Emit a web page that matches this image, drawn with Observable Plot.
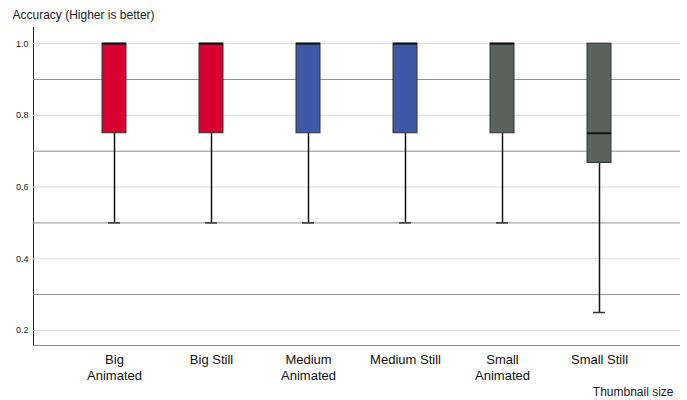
<!DOCTYPE html>
<html><head><meta charset="utf-8">
<script src="https://cdn.jsdelivr.net/npm/d3@7"></script>
<script src="https://cdn.jsdelivr.net/npm/@observablehq/plot@0.6"></script>
<style>
body{margin:0;background:#fff;font-family:"Liberation Sans",Arial,sans-serif}
svg{font-family:"Liberation Sans",Arial,sans-serif}
</style>
</head><body><div id="chart"></div>
<script>
const categories = ["Big Animated","Big Still","Medium Animated","Medium Still","Small Animated","Small Still"];
const tickLabels = ["Big\nAnimated","Big Still","Medium\nAnimated","Medium Still","Small\nAnimated","Small Still"];
const groups = ["Big","Big","Medium","Medium","Small","Small"];
const whiskerLow = [0.5,0.5,0.5,0.5,0.5,0.25];
const q1 = [0.75,0.75,0.75,0.75,0.75,0.667];
const median = [1,1,1,1,1,0.75];
const q3 = [1,1,1,1,1,1];
const whiskerHigh = [1,1,1,1,1,1];
const yTicks = [0.2,0.4,0.6,0.8,1.0];
const refLines = [0.3,0.5,0.7,0.9];
const groupColors = {Big:"#d80030", Medium:"#3d58a7", Small:"#59625c"};
const yTitle = "Accuracy (Higher is better)";
const xTitle = "Thumbnail size";
const yDomain = [0.158, 1.045];

const data = categories.map((c,i)=>({
  category:c, label:tickLabels[i], color:groupColors[groups[i]],
  lo:whiskerLow[i], q1:q1[i], med:median[i], q3:q3[i], hi:whiskerHigh[i]
}));

const chart = Plot.plot({
  width:687, height:400,
  marginLeft:33, marginRight:7, marginTop:27, marginBottom:55,
  style:{fontSize:"9px", color:"#222", background:"#fff"},
  x:{type:"band", domain:categories, paddingInner:0.7526, paddingOuter:0.711, axis:null},
  y:{domain:yDomain, ticks:yTicks, tickFormat:".1f", tickSize:0, tickPadding:5, label:null, line:true},
  color:{type:"identity"},
  marks:[
    Plot.ruleY(yTicks,{stroke:"#dcdcdc", strokeWidth:1}),
    Plot.ruleY(refLines,{stroke:"#8f8f8f", strokeWidth:1}),
    Plot.ruleY([yDomain[0]],{stroke:"#888", strokeWidth:1}),
    Plot.ruleX(data,{x:"category", y1:"lo", y2:"q1", stroke:"#111", strokeWidth:1.5}),
    Plot.ruleX(data,{x:"category", y1:"q3", y2:"hi", stroke:"#111", strokeWidth:1.5}),
    Plot.tickY(data,{x:"category", y:"lo", inset:6, stroke:"#333", strokeWidth:1.5}),
    Plot.barY(data,{x:"category", y1:"q1", y2:"q3", fill:"color", stroke:"#333", strokeWidth:1}),
    Plot.tickY(data,{x:"category", y:"med", stroke:"#111", strokeWidth:2}),
    Plot.text(data,{x:"category", text:"label", frameAnchor:"bottom", lineAnchor:"top", dy:6, fontSize:13, lineHeight:1.3, fill:"#111"}),
    Plot.text([yTitle],{frameAnchor:"top-left", textAnchor:"start", lineAnchor:"middle", dx:-21, dy:-12, fontSize:12, fill:"#222"}),
    Plot.text([xTitle],{frameAnchor:"bottom-right", textAnchor:"end", lineAnchor:"middle", dx:-7, dy:47, fontSize:12, fill:"#222"})
  ]
});
document.getElementById("chart").appendChild(chart);
</script>
</body></html>
